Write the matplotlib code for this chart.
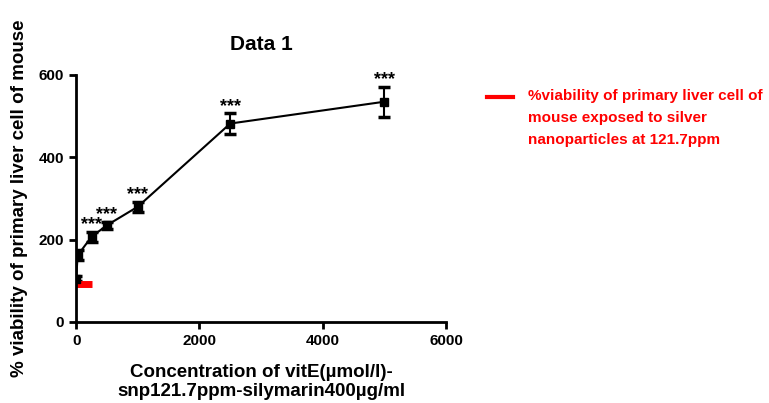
import numpy as np
import matplotlib
matplotlib.use("Agg")
import matplotlib.pyplot as plt

plt.rcParams['font.family'] = ['Liberation Sans', 'DejaVu Sans']

# vitE concentration series (black) with SEM
conc = [0, 25, 250, 500, 1000, 2500, 5000]
viability = [105, 162, 207, 235, 280, 482, 535]
sem = [6, 12, 12, 8, 12, 25, 36]
stars = ['', '', '***', '***', '***', '***', '***']

# red reference series: silver nanoparticles alone
ref_x = [120]
ref_y = [92]
ref_label = "%viability of primary liver cell of\nmouse exposed to silver\nnanoparticles at 121.7ppm"

fig = plt.figure(figsize=(7.69, 4.03), dpi=100)
ax = fig.add_axes([0.099, 0.201, 0.481, 0.613])

ax.errorbar(conc, viability, yerr=sem, color='black', lw=1.5, marker='s',
            markersize=6, capsize=4, capthick=2.5, elinewidth=1.5)
ax.plot(ref_x, ref_y, color='red', marker='_', markersize=12,
        markeredgewidth=5, linestyle='none')

for x, y, e, s in zip(conc, viability, sem, stars):
    if s:
        ax.text(x, y + e - 4, s, ha='center', va='bottom', fontsize=13,
                fontweight='bold')

ax.set_xlim(0, 6000)
ax.set_ylim(0, 600)
ax.set_xticks([0, 2000, 4000, 6000])
ax.set_yticks([0, 200, 400, 600])
for side in ['top', 'right']:
    ax.spines[side].set_visible(False)
for side in ['left', 'bottom']:
    ax.spines[side].set_linewidth(2)
ax.tick_params(width=2, length=5, labelsize=11)
for lab in ax.get_xticklabels() + ax.get_yticklabels():
    lab.set_fontweight('bold')

ax.set_title("Data 1", fontsize=15, fontweight='bold', pad=18)
ax.set_xlabel("Concentration of vitE(\u00b5mol/l)-\nsnp121.7ppm-silymarin400\u00b5g/ml",
              fontsize=13.5, fontweight='bold', labelpad=12, linespacing=1.15)
ax.set_ylabel("% viability of primary liver cell of mouse", fontsize=13.5,
              fontweight='bold', labelpad=8)

# legend drawn by hand so the red line sits level with the first text line
fig.add_artist(plt.Line2D([0.633, 0.667], [0.759, 0.759], color='red', lw=3,
                          transform=fig.transFigure))
fig.text(0.687, 0.759 + 0.02, ref_label, color='red', fontsize=11,
         fontweight='bold', ha='left', va='top', linespacing=1.72,
         transform=fig.transFigure)

fig.savefig('out.png', dpi=100)
